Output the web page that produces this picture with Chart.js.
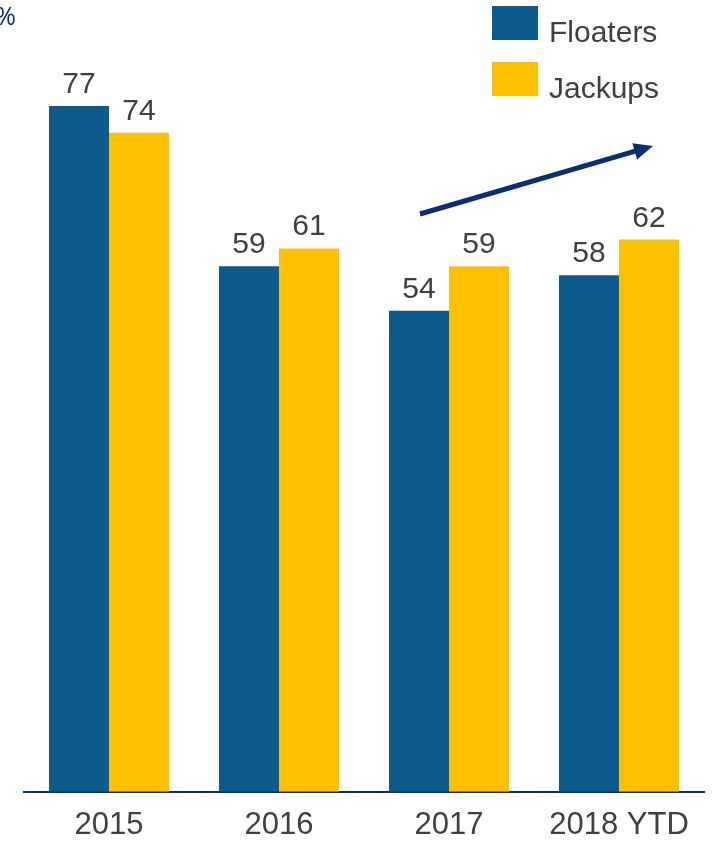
<!DOCTYPE html>
<html>
<head>
<meta charset="utf-8">
<script src="https://cdn.jsdelivr.net/npm/chart.js@4.4.1/dist/chart.umd.min.js"></script>
<style>
  html, body { margin:0; padding:0; background:#fff; }
  #wrap { width:712px; height:843px; position:relative; }
</style>
</head>
<body>
<div id="wrap"><canvas id="c"></canvas></div>
<script>
// chart data
const years = ['2015', '2016', '2017', '2018 YTD'];
const floaters = [77, 59, 54, 58];
const jackups = [74, 61, 59, 62];
const seriesNames = ['Floaters', 'Jackups'];

const BLUE = '#0d5a8c', GOLD = '#ffc000', NAVY = '#0a2d74', TXT = '#404040';
const FONT = '"Liberation Sans", Arial, sans-serif';

// value labels above bars
const valueLabels = {
  id:'valueLabels',
  afterDatasetsDraw(chart){
    const ctx = chart.ctx;
    ctx.save();
    ctx.font = '30px ' + FONT;
    ctx.fillStyle = TXT;
    ctx.textAlign = 'center';
    ctx.textBaseline = 'alphabetic';
    chart.data.datasets.forEach((ds, i)=>{
      chart.getDatasetMeta(i).data.forEach((bar, j)=>{
        ctx.fillText(ds.data[j], bar.x, bar.y - 13);
      });
    });
    ctx.restore();
  }
};

// legend, % marker and trend arrow
const extras = {
  id:'extras',
  afterDraw(chart){
    const ctx = chart.ctx;
    ctx.save();
    // legend boxes
    ctx.font = '30px ' + FONT;
    ctx.textBaseline = 'alphabetic';
    ctx.textAlign = 'left';
    [BLUE, GOLD].forEach((col, i)=>{
      const y = 6 + i*56;
      ctx.fillStyle = col;
      ctx.fillRect(492, y, 46, 34);
      ctx.fillStyle = TXT;
      ctx.fillText(seriesNames[i], 549, y + 36);
    });
    // % unit, clipped at left edge
    ctx.fillStyle = NAVY;
    ctx.font = '25px "Open Sans", ' + FONT;
    ctx.textAlign = 'right';
    ctx.textBaseline = 'alphabetic';
    ctx.fillText('%', 16, 25);
    // trend arrow
    const x0 = 420, y0 = 214, x1 = 653, y1 = 146;
    const ang = Math.atan2(y1 - y0, x1 - x0);
    ctx.strokeStyle = NAVY;
    ctx.fillStyle = NAVY;
    ctx.lineWidth = 5;
    ctx.beginPath();
    ctx.moveTo(x0, y0);
    ctx.lineTo(x1 - 14*Math.cos(ang), y1 - 14*Math.sin(ang));
    ctx.stroke();
    ctx.beginPath();
    ctx.moveTo(x1, y1);
    ctx.lineTo(x1 - 19*Math.cos(ang) + 8.5*Math.sin(ang), y1 - 19*Math.sin(ang) - 8.5*Math.cos(ang));
    ctx.lineTo(x1 - 19*Math.cos(ang) - 8.5*Math.sin(ang), y1 - 19*Math.sin(ang) + 8.5*Math.cos(ang));
    ctx.closePath();
    ctx.fill();
    ctx.restore();
  }
};

new Chart(document.getElementById('c'), {
  type:'bar',
  data:{
    labels: years,
    datasets:[
      { label: seriesNames[0], data: floaters, backgroundColor: BLUE },
      { label: seriesNames[1], data: jackups, backgroundColor: GOLD }
    ]
  },
  options:{
    responsive:true,
    maintainAspectRatio:false,
    animation:false,
    layout:{ padding:{ left:24, right:8, top:8, bottom:-16 } },
    datasets:{ bar:{ categoryPercentage:0.706, barPercentage:1.0 } },
    plugins:{ legend:{ display:false }, tooltip:{ enabled:false } },
    scales:{
      y:{ display:false, min:0, max:88 },
      x:{
        grid:{ display:false, drawTicks:false },
        border:{ display:true, color:NAVY, width:2 },
        ticks:{ color:TXT, font:{ family:FONT, size:31 }, padding:15 }
      }
    }
  },
  plugins:[valueLabels, extras]
});
</script>
</body>
</html>
